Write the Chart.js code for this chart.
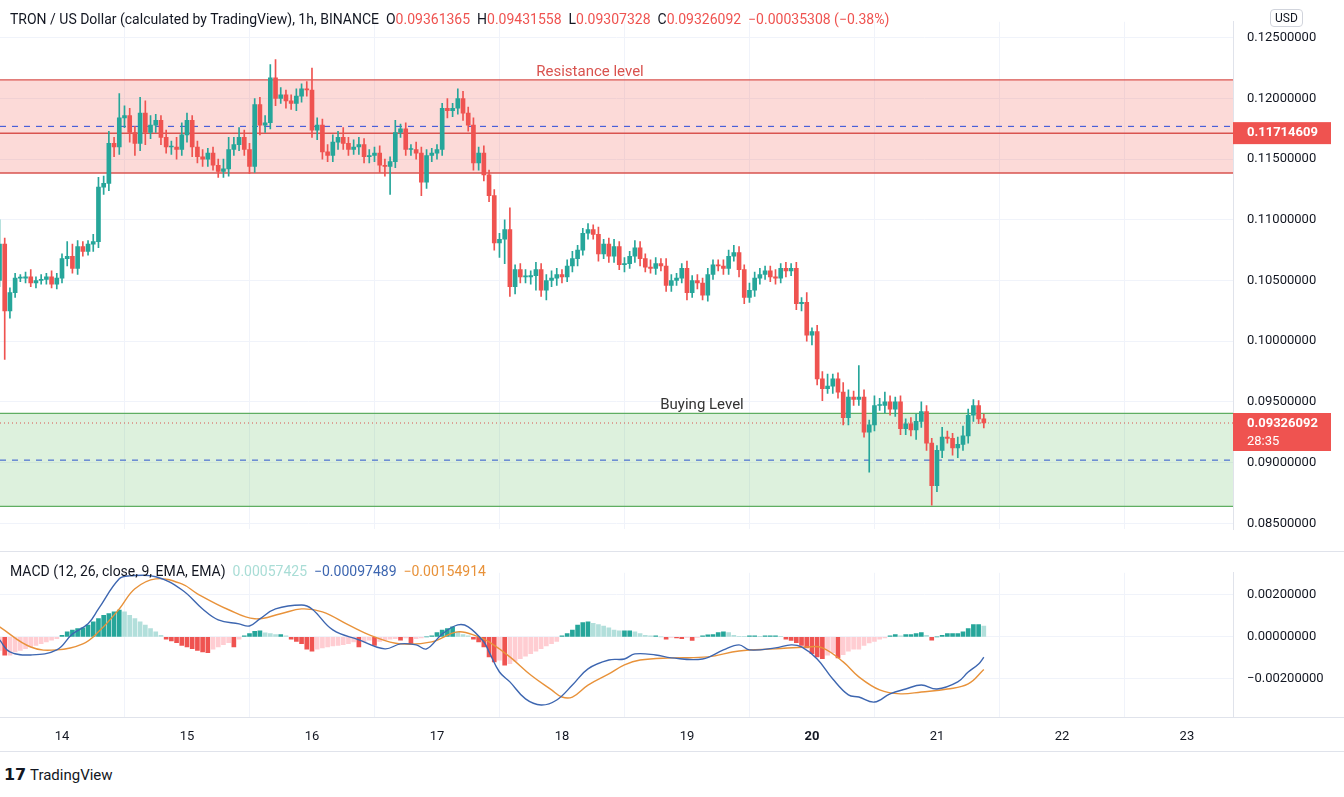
<!DOCTYPE html>
<html>
<head>
<meta charset="utf-8">
<script src="https://cdn.jsdelivr.net/npm/chart.js@4.4.1/dist/chart.umd.min.js"></script>
<style>
  body { margin: 0; background: #fff; font-family: Roboto, "Liberation Sans", sans-serif; }
  #wrap { position: relative; width: 1344px; height: 797px; overflow: hidden; }
  canvas { position: absolute; left: 0; }
  .txt { position: absolute; white-space: pre; font-size: 14px; color: #131722; }
  .red { color: #ef5350; }
</style>
</head>
<body>
<div id="wrap">
  <canvas id="PriceChart" width="1344" height="551" style="top:0"></canvas>
  <canvas id="MacdChart" width="1344" height="201" style="top:551px"></canvas>
  <div class="txt" style="left:10px;top:11px">TRON / US Dollar (calculated by TradingView), 1h, BINANCE  O<span class="red">0.09361365</span>  H<span class="red">0.09431558</span>  L<span class="red">0.09307328</span>  C<span class="red">0.09326092</span>  <span class="red">−0.00035308 (−0.38%)</span></div>
  <div class="txt" style="left:10px;top:563px">MACD (12, 26, close, 9, EMA, EMA)  <span style="color:#a9ddd6">0.00057425</span>  <span style="color:#3d66b0">−0.00097489</span>  <span style="color:#e8923a">−0.00154914</span></div>
  <div class="txt" style="left:1270px;top:9px;font-size:12px;border:1px solid #d1d4dc;border-radius:4px;padding:1px 4px">USD</div>
  <div class="txt" style="left:4px;top:765px;font-size:16px;font-weight:bold">𝟭𝟳</div>
  <div class="txt" style="left:30px;top:766px;font-size:15px">TradingView</div>
</div>
<script>
// prices in units of 0.0001, MACD in units of 0.00001
const closes = [
  1080,1025,1040,1052,1052,1053,1048,1050,1051,1053,1047,1052,
  1068,1070,1060,1078,1074,1080,1082,1127,1130,1163,1160,1184,
  1186,1172,1163,1188,1172,1178,1182,1168,1160,1160,1158,1170,
  1182,1160,1152,1150,1155,1145,1140,1142,1158,1162,1168,1158,
  1144,1195,1178,1180,1217,1200,1203,1198,1196,1202,1208,1207,
  1174,1178,1156,1153,1164,1168,1163,1158,1160,1162,1152,1153,
  1155,1145,1144,1148,1172,1175,1158,1158,1155,1131,1153,1155,
  1158,1192,1190,1192,1200,1188,1178,1147,1155,1137,1120,1081,
  1084,1092,1045,1059,1053,1053,1054,1059,1042,1050,
  1052,1055,1053,1062,1068,1075,1089,1092,1088,1072,
  1080,1070,1078,1063,1064,1070,1077,1068,1061,1060,
  1064,1062,1046,1050,1052,1060,1040,1050,1048,1038,
  1055,1063,1062,1060,1070,1073,1059,1036,1042,1052,
  1055,1058,1053,1052,1060,1058,1060,
  1031,1032,1005,1008,969,961,963,969,958,937,
  954,952,954,925,931,947,947,950,944,950,
  928,932,927,934,942,916,881,910,921,920,
  912,915,922,939,947,936,932.6
];
const firstOpen = 1050;
const wickUp = [
  20,5,4,4,3,4,6,3,4,3,5,4,
  4,12,10,5,4,3,6,8,6,10,5,20,
  8,6,5,13,10,8,5,4,6,5,8,10,
  6,4,5,6,4,5,5,8,10,6,8,6,
  5,5,6,6,11,15,6,4,5,6,4,6,
  18,6,5,6,6,5,8,5,6,6,5,5,
  5,6,5,4,10,4,5,4,6,5,5,4,
  4,4,8,4,8,6,5,6,5,6,4,5,
  5,8,18,4,5,6,4,6,5,5, 6,5,4,5,6,4,4,5,4,6,
  4,5,6,4,5,4,6,5,4,6, 5,4,6,5,4,4,6,4,5,4,
  5,4,4,5,5,6,5,4,6,5, 5,4,4,6,4,5,4,
  5,4,8,3,5,6,10,4,5,8, 6,5,26,6,4,8,6,8,5,4,
  5,4,5,6,8,5,4,4,8,5, 4,6,8,5,5,4,4
];
const wickDn = [
  5,40,6,4,3,4,3,4,3,4,3,4,
  4,6,4,5,4,3,6,5,6,6,8,6,
  8,8,10,6,10,5,6,6,5,6,8,5,
  6,8,5,6,6,4,5,5,6,5,5,5,
  6,5,8,6,5,6,4,6,5,6,5,5,
  6,8,6,5,5,6,5,5,4,6,5,5,
  5,6,8,23,5,4,5,5,5,11,5,5,
  5,5,6,5,5,6,5,6,6,5,5,6,
  12,20,8,6,5,5,6,12,5,8, 5,6,5,4,5,6,4,5,4,6,
  4,5,5,4,6,4,5,6,4,4, 5,4,5,5,4,4,6,4,5,4,
  5,4,4,5,5,4,6,5,4,5, 5,4,4,5,4,5,4,
  5,6,5,8,5,10,4,6,5,6, 6,5,5,4,33,5,4,6,5,6,
  5,5,5,8,5,6,16,5,6,4, 6,8,5,6,5,4,4
];

const macdHist = [
  -64,-87,-87,-72,-64,-56,-48,-40,-32,-24,-16,-8,
  8,24,32,40,43,56,72,87,103,111,119,127,
  119,103,87,72,56,40,24,8,-11,-19,-27,-40,
  -48,-56,-64,-72,-75,-59,-48,-37,-27,-48,-11,5,
  16,27,29,19,16,11,11,5,-11,-21,-32,-59,
  -68,-59,-52,-48,-43,-40,-37,-32,-24,-48,-24,-16,
  -40,-21,-16,-11,-8,-16,-5,-32,-8,-5,0,5,
  21,32,40,48,24,11,5,-11,-24,-48,-95,-119,
  -111,-135,-127,-116,-103,-92,-80,-68,-56,-43,-32,-21,
  5,16,32,56,68,72,64,59,51,43,32,29,
  29,29,24,16,8,5,5,0,-11,-2,-5,-8,
  -2,-17,-2,5,10,11,21,24,21,8,3,2,
  5,5,3,5,5,5,2,-11,-17,-27,-40,-52,
  -80,-95,-103,-87,-75,-100,-84,-68,-59,-59,-40,-29,
  -21,-11,-5,5,11,5,11,11,16,21,8,-16,
  0,8,16,16,16,24,40,59,59,52
];
const macdIdx = [0,2,6,11,14,17,19,23,25,30,35,39,42,46,48,50,53,58,60,64,69,74,77,80,82,85,88,90,93,94,96,98,
  101,104,107,110,113,117,120,122,126,129,135,139,142,144,149,152,154,157,160,163,165,168,171,174,177,180,184,186,188,189];
const macdLine = [-14,-71,-86,-62,14,62,133,276,290,286,224,133,81,62,52,86,133,152,133,33,-14,-57,-33,-38,-57,14,57,48,-24,-71,-167,-214,
  -295,-324,-300,-229,-152,-110,-105,-81,-86,-100,-105,-62,-38,-62,-52,-38,-48,-105,-200,-276,-286,-310,-271,-248,-229,-248,-214,-167,-129,-97];
const signalIdx = [0,6,11,16,19,23,26,30,35,38,44,49,54,58,62,67,72,77,83,88,92,94,98,102,106,108,110,113,117,120,123,129,136,142,149,155,158,162,165,169,173,177,182,186,189];
const signalLine = [48,-48,-62,-33,24,133,229,276,252,205,129,86,110,133,119,57,0,-33,-24,24,0,-24,-95,-181,-252,-286,-286,-229,-176,-133,-110,-100,-95,-67,-57,-48,-52,-119,-190,-252,-271,-262,-248,-224,-155];

const dayIdx = [12,36,60,84,108,132,156,180,204,228];
const dayLabels = ["14","15","16","17","18","19","20","21","22","23"];
const priceTicks = [0.085,0.09,0.095,0.1,0.105,0.11,0.115,0.12,0.125];
const macdTicks = [-0.002,0,0.002];

const resistanceZone = [0.11386, 0.12153];
const buyingZone = [0.08639, 0.09406];
const resistanceMid = 0.11714609;
const resistanceDash = 0.1177;
const buyingDash = 0.0902;
const lastPrice = 0.09326092;

const GREEN = '#26a69a', RED = '#ef5350', GRID = '#f0f3fa';
const xMin = 12 - 62 / 5.208, xMax = 12 + (1233 - 62) / 5.208;

let bodies = [], wicks = [], candleColors = [];
let prev = firstOpen;
for (let i = 0; i < closes.length; i++) {
  let o = prev / 10000, c = closes[i] / 10000;
  let hi = Math.max(o, c) + wickUp[i] / 10000, lo = Math.min(o, c) - wickDn[i] / 10000;
  bodies.push({ x: i, y: [o, c] });
  wicks.push({ x: i, y: [lo, hi] });
  candleColors.push(c >= o ? GREEN : RED);
  prev = closes[i];
}

function xScale(showTicks) {
  return {
    type: 'linear', min: xMin, max: xMax, offset: false,
    afterBuildTicks: s => { s.ticks = dayIdx.map(v => ({ value: v })); },
    afterFit: s => { s.height = showTicks ? 35 : 0; },
    grid: { color: GRID, drawTicks: false },
    border: { display: false },
    ticks: {
      display: showTicks, padding: 12, color: '#131722', maxRotation: 0,
      font: ctx => ({ family: 'Roboto', size: 13, weight: dayIdx[ctx.index] === 156 ? 'bold' : 'normal' }),
      callback: (v) => dayLabels[dayIdx.indexOf(v)]
    }
  };
}

function fmt(v) {
  if (Math.abs(v) < 1e-12) return '0.00000000';
  return (v < 0 ? '−' : '') + Math.abs(v).toFixed(8);
}

function yRight(min, max, ticks) {
  return {
    position: 'right', min: min, max: max,
    afterBuildTicks: s => { s.ticks = ticks.map(v => ({ value: v })); },
    afterFit: s => { s.width = 111; },
    grid: { color: GRID, drawTicks: false },
    border: { color: '#e0e3eb' },
    ticks: { padding: 14, color: '#131722', font: { family: 'Roboto', size: 13 }, callback: v => fmt(v) }
  };
}

// zones, level lines and price tags on the price pane
const levelsPlugin = {
  id: 'levels',
  beforeDatasetsDraw(chart) {
    const { ctx, chartArea: a, scales: { y } } = chart;
    ctx.save();
    function zone(z, fill, line) {
      let t = y.getPixelForValue(z[1]), b = y.getPixelForValue(z[0]);
      ctx.fillStyle = fill;
      ctx.fillRect(a.left, t, a.right - a.left, b - t);
      ctx.strokeStyle = line; ctx.lineWidth = 1.3;
      [t, b].forEach(p => { ctx.beginPath(); ctx.moveTo(a.left, p); ctx.lineTo(a.right, p); ctx.stroke(); });
    }
    zone(resistanceZone, 'rgba(244,100,90,0.24)', '#d9534f');
    zone(buyingZone, 'rgba(100,190,100,0.22)', '#5fae62');
    function hline(v, color, dash, w) {
      let p = y.getPixelForValue(v);
      ctx.strokeStyle = color; ctx.lineWidth = w; ctx.setLineDash(dash);
      ctx.beginPath(); ctx.moveTo(a.left, p); ctx.lineTo(a.right, p); ctx.stroke();
    }
    hline(resistanceMid, '#d9534f', [], 1.5);
    hline(resistanceDash, '#4a5fd8', [6, 6], 1.2);
    hline(buyingDash, '#4a6fd0', [6, 6], 1.2);
    hline(lastPrice, '#d9534f', [1, 3], 1);
    ctx.setLineDash([]);
    ctx.font = '15px Roboto';
    ctx.textAlign = 'center'; ctx.textBaseline = 'middle';
    ctx.fillStyle = '#d9534f';
    ctx.fillText('Resistance level', 590, 72);
    ctx.fillStyle = '#333';
    ctx.fillText('Buying Level', 702, 405);
    ctx.restore();
  },
  afterDraw(chart) {
    const { ctx, chartArea: a, scales: { y } } = chart;
    ctx.save();
    ctx.fillStyle = RED;
    let p1 = y.getPixelForValue(resistanceMid);
    ctx.fillRect(a.right, p1 - 11, 98, 22);
    let p2 = y.getPixelForValue(lastPrice);
    ctx.fillRect(a.right, p2 - 10, 98, 38);
    ctx.fillStyle = '#fff';
    ctx.font = 'bold 13px Roboto';
    ctx.textBaseline = 'middle'; ctx.textAlign = 'left';
    ctx.fillText(resistanceMid.toFixed(8), a.right + 14, p1);
    ctx.fillText(lastPrice.toFixed(8), a.right + 14, p2 + 1);
    ctx.font = '13px Roboto';
    ctx.fillText('28:35', a.right + 14, p2 + 19);
    ctx.restore();
  }
};

const priceChart = new Chart(document.getElementById('PriceChart'), {
  type: 'bar',
  data: {
    datasets: [
      { data: wicks, backgroundColor: candleColors, barThickness: 1, grouped: false, order: 2 },
      { data: bodies, backgroundColor: candleColors, barThickness: 4, minBarLength: 1, grouped: false, order: 1 }
    ]
  },
  options: {
    responsive: false, animation: false,
    layout: { padding: 0 },
    plugins: { legend: { display: false }, tooltip: { enabled: false } },
    scales: {
      x: xScale(false),
      y: yRight(0.08451, 0.12632, priceTicks)
    }
  },
  plugins: [levelsPlugin]
});

const paneLines = {
  id: 'paneLines',
  afterDraw(chart) {
    const { ctx, chartArea: a } = chart;
    ctx.save();
    ctx.strokeStyle = '#e0e3eb'; ctx.lineWidth = 1;
    ctx.beginPath(); ctx.moveTo(0, 0.5); ctx.lineTo(1344, 0.5); ctx.stroke();
    ctx.beginPath(); ctx.moveTo(0, a.bottom + 0.5); ctx.lineTo(1344, a.bottom + 0.5); ctx.stroke();
    ctx.beginPath(); ctx.moveTo(0, chart.height - 0.5); ctx.lineTo(1344, chart.height - 0.5); ctx.stroke();
    ctx.restore();
  }
};

const macdChart = new Chart(document.getElementById('MacdChart'), {
  type: 'bar',
  data: {
    datasets: [
      {
        data: macdHist.map((v, i) => ({ x: i, y: v / 100000 })),
        barThickness: 4, order: 3, grouped: false,
        backgroundColor: ctx => {
          let i = ctx.dataIndex, v = macdHist[i], p = i > 0 ? macdHist[i - 1] : v;
          if (v >= 0) return v >= p ? GREEN : '#b2dfdb';
          return v < p ? RED : '#ffcdd2';
        }
      },
      {
        type: 'line', order: 1,
        data: macdIdx.map((x, i) => ({ x: x, y: macdLine[i] / 100000 })),
        borderColor: '#3d66b0', borderWidth: 1.4, pointRadius: 0, tension: 0.4
      },
      {
        type: 'line', order: 2,
        data: signalIdx.map((x, i) => ({ x: x, y: signalLine[i] / 100000 })),
        borderColor: '#e8923a', borderWidth: 1.4, pointRadius: 0, tension: 0.4
      }
    ]
  },
  options: {
    responsive: false, animation: false,
    layout: { padding: 0 },
    plugins: { legend: { display: false }, tooltip: { enabled: false } },
    scales: {
      x: xScale(true),
      y: yRight(-0.00381, 0.003048, macdTicks)
    }
  },
  plugins: [paneLines]
});
</script>
</body>
</html>
